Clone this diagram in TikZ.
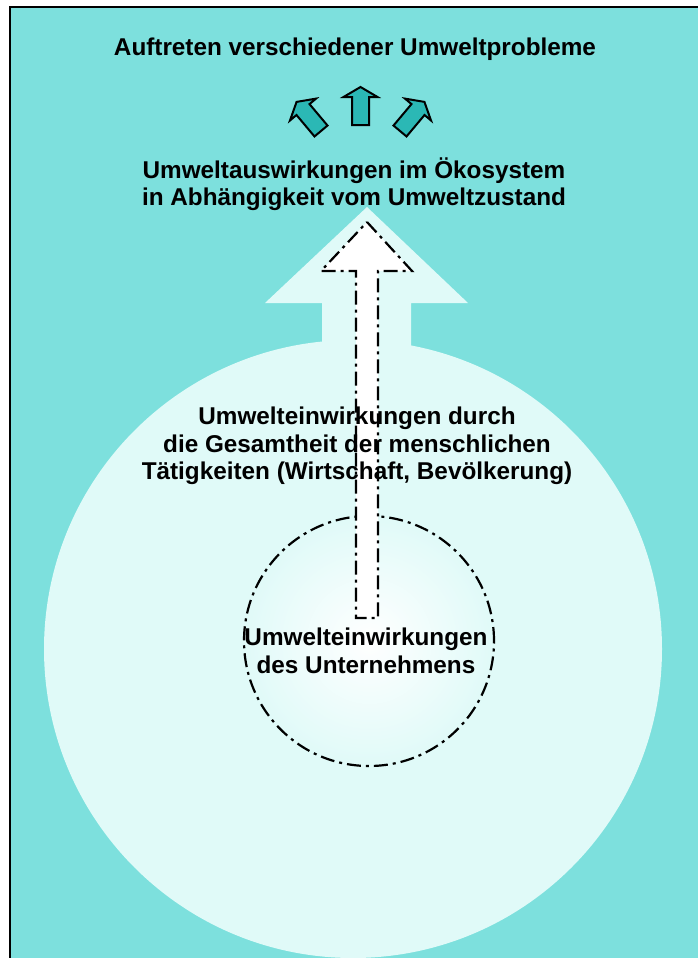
\documentclass[tikz,border=0pt]{standalone}
\usepackage{fontspec}
\setmainfont{Liberation Sans}
\definecolor{bgteal}{RGB}{125,224,221}
\definecolor{lightcyan}{RGB}{224,250,248}
\definecolor{arrteal}{RGB}{43,184,181}
\tikzset{
  lbl/.style={font=\bfseries\fontsize{24.3}{27.5}\selectfont, align=center, inner sep=0pt, text=black},
  smallarrow/.style={fill=arrteal, draw=black, line width=2pt, line join=miter},
  dashdot/.style={draw=black, line width=2.2pt, dash pattern=on 14pt off 5pt on 3pt off 5pt},
}
\begin{document}
\begin{tikzpicture}[x=1pt,y=-1pt]
\useasboundingbox (0,0) rectangle (697,958);
% frame
\draw[fill=bgteal, line width=2pt] (10,7) rectangle (702,962);
% big circle
\fill[lightcyan] (353,649) circle (309);
% big light arrow
\fill[lightcyan] (367,207) -- (468,303) -- (411,303) -- (411,420) -- (322,420) -- (322,303) -- (265,303) -- cycle;
% small circle with radial gradient
\shade[inner color=white, outer color=lightcyan] (369,641) circle (125);
\node[circle, minimum size=250pt, inner sep=0pt, dashdot] (firm) at (369,641) {};
% white dashed arrow
\path[fill=white, dashdot] (367,222) -- (412,271) -- (378,271) -- (378,618) -- (356,618) -- (356,271) -- (321,271) -- cycle;
% small arrows
\begin{scope}[shift={(360.5,125)}]
  \path[smallarrow] (0,-38) -- (17,-28) -- (8.5,-28) -- (8.5,0) -- (-8.5,0) -- (-8.5,-28) -- (-17,-28) -- cycle;
\end{scope}
\begin{scope}[shift={(321,131)}, rotate=40]
  \path[smallarrow] (0,-38) -- (17,-28) -- (8.5,-28) -- (8.5,0) -- (-8.5,0) -- (-8.5,-28) -- (-17,-28) -- cycle;
\end{scope}
\begin{scope}[shift={(400,131)}, rotate=-40]
  \path[smallarrow] (0,-38) -- (17,-28) -- (8.5,-28) -- (8.5,0) -- (-8.5,0) -- (-8.5,-28) -- (-17,-28) -- cycle;
\end{scope}
% texts
\node[lbl] (t1) at (355,49) {Auftreten verschiedener Umweltprobleme};
\node[lbl] (t2) at (354,184) {Umweltauswirkungen im Ökosystem\\in Abhängigkeit vom Umweltzustand};
\node[lbl] (t3) at (357,446) {Umwelteinwirkungen durch\\die Gesamtheit der menschlichen\\Tätigkeiten (Wirtschaft, Bevölkerung)};
\node[lbl] (t4) at (366,651) {Umwelteinwirkungen\\des Unternehmens};
\end{tikzpicture}
\end{document}
